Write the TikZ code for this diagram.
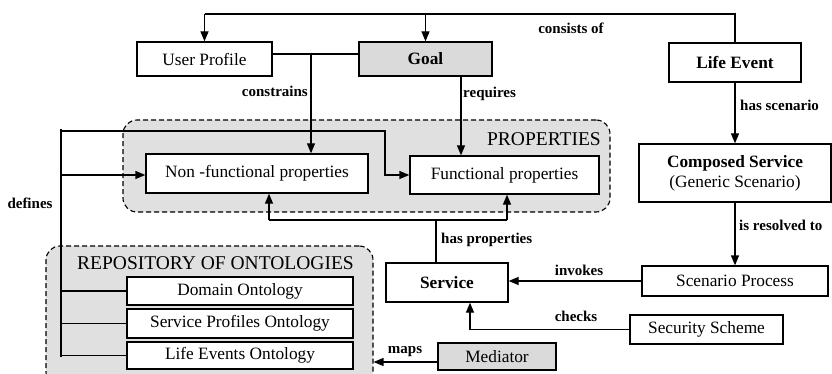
\documentclass[tikz,border=0pt]{standalone}
\usepackage{fontspec}
\setmainfont{Liberation Serif}
\usetikzlibrary{arrows.meta,calc}
\definecolor{grp}{HTML}{E0E0E0}
\definecolor{gbox}{HTML}{DADADA}
\begin{document}
\begin{tikzpicture}[x=1pt,y=-1pt,
  box/.style={draw,line width=1.3pt,fill=white,inner sep=0pt,font=\fontsize{17.3}{20}\selectfont},
  grpbox/.style={draw,dash pattern=on 5pt off 3pt,line width=1.1pt,fill=grp,rounded corners=14pt},
  lbl/.style={font=\fontsize{15}{17}\selectfont\bfseries,inner sep=1pt},
  con/.style={line width=1.3pt},
  arr/.style={line width=1.3pt,-{Triangle[length=10pt,width=8pt]}}]
\clip (0,0) rectangle (832,374);
\fill[white] (0,0) rectangle (832,374);
% groups
\node[grpbox,minimum width=487pt,minimum height=92pt] (props) at (366.5,166) {};
\node[grpbox,minimum width=327pt,minimum height=140pt] (repo) at (209.5,316) {};
\node[font=\fontsize{19.5}{21}\selectfont,anchor=east,inner sep=0pt] (propslbl) at (601,139) {PROPERTIES};
\node[font=\fontsize{19.5}{21}\selectfont,inner sep=0pt] (repolbl) at (215.5,263) {REPOSITORY OF ONTOLOGIES};
% boxes
\node[box,minimum width=135pt,minimum height=34pt] (up) at (204.5,59) {User Profile};
\node[box,fill=gbox,minimum width=133pt,minimum height=34pt,font=\fontsize{17.3}{20}\selectfont\bfseries] (goal) at (425.5,59) {Goal};
\node[box,minimum width=132pt,minimum height=39pt,font=\fontsize{17.3}{20}\selectfont\bfseries] (le) at (735,62.5) {Life Event};
\node[box,minimum width=192pt,minimum height=58pt,align=center] (cs) at (735,173) {\textbf{Composed Service}\\(Generic Scenario)};
\node[box,minimum width=186pt,minimum height=30pt] (sp) at (735,281) {Scenario Process};
\node[box,minimum width=122pt,minimum height=39pt,font=\fontsize{17.3}{20}\selectfont\bfseries] (svc) at (447,282.5) {Service};
\node[box,minimum width=153pt,minimum height=29pt] (ss) at (706.5,329.5) {Security Scheme};
\node[box,fill=gbox,minimum width=118pt,minimum height=27pt] (med) at (497,356.5) {Mediator};
\node[box,minimum width=222pt,minimum height=39pt] (nf) at (257,173.5) {Non -functional properties};
\node[box,minimum width=189pt,minimum height=38pt] (fp) at (504.5,175) {Functional properties};
\node[box,minimum width=226pt,minimum height=28pt] (dom) at (240,291) {Domain Ontology};
\node[box,minimum width=226pt,minimum height=29pt] (spo) at (240,323.5) {Service Profiles Ontology};
\node[box,minimum width=226pt,minimum height=27pt] (leo) at (240,355.5) {Life Events Ontology};
% consists of
\coordinate (topL) at (204.5,14);
\coordinate (topG) at (425.5,14);
\draw[con] (le.north) |- (topL);
\draw[arr] (topL) -- (up.north);
\draw[arr] (topG) -- (goal.north);
\node[lbl] (l1) at (571,28) {consists of};
% constrains / requires
\coordinate (cj) at (311,54);
\draw[con] (up.east |- cj) -- (goal.west |- cj);
\draw[arr] (cj) -- (nf.north -| cj);
\node[lbl,anchor=east] (l2) at (309,91) {constrains};
\draw[arr] (goal.south -| 461,0) -- (fp.north -| 461,0);
\node[lbl,anchor=west] (l3) at (462,94) {requires};
% has scenario / is resolved to
\draw[arr] (le.south) -- (cs.north);
\node[lbl,anchor=west] (l4) at (739,105) {has scenario};
\draw[arr] (cs.south) -- (sp.north);
\node[lbl,anchor=west] (l5) at (738,225) {is resolved to};
% invokes
\draw[arr] (sp.west) -- (svc.east |- sp.west);
\node[lbl] (l6) at (579,270) {invokes};
% checks
\coordinate (ck) at (470,329.5);
\draw[con] (ss.west) -- (ck);
\draw[arr] (ck) -- (svc.south -| ck);
\node[lbl] (l7) at (576,316) {checks};
% maps
\coordinate (mp) at (438,362);
\draw[arr] (mp) -- (repo.east |- mp);
\node[lbl] (l8) at (405,352) {maps};
% has properties
\coordinate (hp) at (436,220);
\coordinate (hpL) at (269,220);
\coordinate (hpR) at (507,220);
\draw[con] (svc.north -| hp) -- (hp);
\draw[con] (hpL) -- (hpR);
\draw[arr] (hpL) -- (nf.south -| hpL);
\draw[arr] (hpR) -- (fp.south -| hpR);
\node[lbl,anchor=west] (l9) at (440,240) {has properties};
% defines
\coordinate (dT) at (61,129);
\coordinate (dB) at (61,357);
\coordinate (dK) at (385,131);
\draw[con] (dT) -- (dB);
\draw[arr] (61,131) -- (dK) |- (fp.west);
\draw[arr] (61,175) -- (nf.west |- 0,175);
\draw[con] (61,291) -- (dom.west);
\draw[con] (61,323.5) -- (spo.west);
\draw[con] (61,355.5) -- (leo.west);
\node[lbl] (l10) at (30,203) {defines};
\end{tikzpicture}
\end{document}
